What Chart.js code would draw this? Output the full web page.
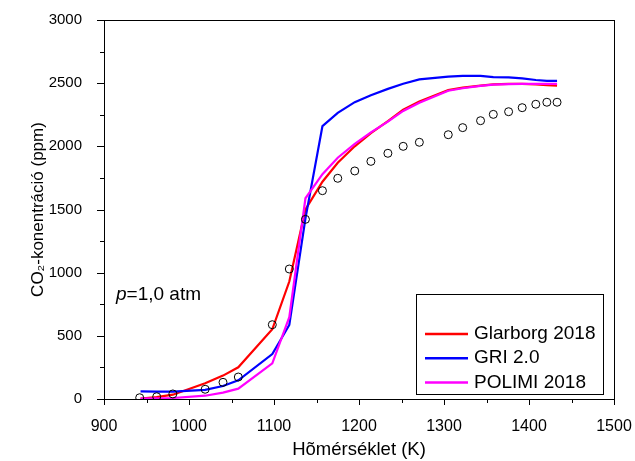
<!DOCTYPE html>
<html>
<head>
<meta charset="utf-8">
<script src="https://cdn.jsdelivr.net/npm/chart.js@4/dist/chart.umd.min.js"></script>
<style>
  html, body { margin: 0; padding: 0; background: #fff; }
  #wrap { width: 635px; height: 461px; }
</style>
</head>
<body>
<div id="wrap"><canvas id="co2Chart"></canvas></div>
<script>
// mért pontok
const tempExp = [942, 962, 981, 1019, 1040, 1058, 1098, 1118, 1137, 1157, 1175, 1195, 1214, 1234, 1252, 1271, 1305, 1322, 1343, 1358, 1376, 1392, 1408, 1421, 1433];
const co2Exp = [10, 18, 40, 77, 132, 174, 588, 1029, 1422, 1649, 1747, 1805, 1881, 1945, 2000, 2032, 2092, 2148, 2203, 2253, 2274, 2306, 2333, 2349, 2349];

// modellszámítások
const tempModel = [943, 962, 981, 1019, 1040, 1058, 1098, 1118, 1137, 1157, 1175, 1195, 1214, 1234, 1252, 1271, 1305, 1322, 1343, 1358, 1376, 1392, 1408, 1421, 1433];
const glarborg = [3, 15, 34, 124, 185, 251, 552, 930, 1500, 1720, 1870, 2000, 2105, 2200, 2290, 2355, 2445, 2465, 2480, 2490, 2495, 2495, 2490, 2485, 2480];
const gri = [60, 58, 58, 72, 103, 148, 356, 586, 1430, 2160, 2265, 2350, 2405, 2455, 2495, 2530, 2552, 2558, 2558, 2548, 2546, 2538, 2525, 2518, 2518];
const polimi = [3, 5, 8, 26, 50, 82, 282, 648, 1589, 1780, 1910, 2020, 2110, 2195, 2280, 2345, 2440, 2460, 2478, 2488, 2493, 2495, 2495, 2495, 2495];

const modelNames = ['Glarborg 2018', 'GRI 2.0', 'POLIMI 2018'];
const modelColors = ['#ff0000', '#0000ff', '#ff00ff'];
const modelValues = [glarborg, gri, polimi];

const FONT = "'Liberation Sans', Arial, sans-serif";
Chart.defaults.font.family = FONT;
Chart.defaults.color = '#000';

const toPoints = (xs, ys) => xs.map((x, i) => ({ x, y: ys[i] }));

// keret + kifelé álló osztásjelek
const framePlugin = {
  id: 'frame',
  afterDraw(chart) {
    const { ctx, chartArea: a, scales: { x, y } } = chart;
    ctx.save();
    ctx.strokeStyle = '#000';
    ctx.lineWidth = 1;
    ctx.strokeRect(a.left + 0.5, a.top + 0.5, a.right - a.left, a.bottom - a.top);
    ctx.beginPath();
    x.ticks.forEach(t => {
      const px = Math.round(x.getPixelForValue(t.value)) + 0.5;
      const len = t.value % 100 === 0 ? 6 : 4;
      ctx.moveTo(px, a.bottom);
      ctx.lineTo(px, a.bottom + len);
    });
    y.ticks.forEach(t => {
      const py = Math.round(y.getPixelForValue(t.value)) + 0.5;
      const len = t.value % 500 === 0 ? 7 : 4;
      ctx.moveTo(a.left, py);
      ctx.lineTo(a.left - len, py);
    });
    ctx.stroke();
    ctx.restore();
  }
};

// jelmagyarázat és a nyomás felirat a rajzterületen belül
const legendPlugin = {
  id: 'boxLegend',
  afterDraw(chart) {
    const { ctx } = chart;
    ctx.save();
    ctx.strokeStyle = '#000';
    ctx.lineWidth = 1;
    ctx.strokeRect(416.5, 294.5, 187, 100);
    ctx.font = '19px ' + FONT;
    ctx.textBaseline = 'middle';
    ctx.textAlign = 'left';
    chart.data.datasets.filter(d => d.type === 'line').forEach((d, i) => {
      const yy = 334 + i * 24.2;
      ctx.strokeStyle = d.borderColor;
      ctx.lineWidth = 2.5;
      ctx.beginPath();
      ctx.moveTo(425, yy);
      ctx.lineTo(468, yy);
      ctx.stroke();
      ctx.fillStyle = '#000';
      ctx.fillText(d.label, 474, yy);
    });
    ctx.font = 'italic 19px ' + FONT;
    ctx.textBaseline = 'alphabetic';
    ctx.fillText('p', 116, 300);
    const w = ctx.measureText('p').width;
    ctx.font = '19px ' + FONT;
    ctx.fillText('=1,0 atm', 116 + w, 300);
    ctx.restore();
  }
};

const datasets = modelNames.map((name, i) => ({
  type: 'line',
  label: name,
  data: toPoints(tempModel, modelValues[i]),
  borderColor: modelColors[i],
  backgroundColor: modelColors[i],
  borderWidth: 2.2,
  pointRadius: 0,
  tension: 0,
  fill: false,
  order: 2 + (2 - i)
}));
datasets.push({
  type: 'scatter',
  label: 'mért',
  data: toPoints(tempExp, co2Exp),
  pointStyle: 'circle',
  pointRadius: 4,
  borderColor: '#000',
  backgroundColor: 'rgba(0,0,0,0)',
  borderWidth: 1,
  order: 1
});

new Chart(document.getElementById('co2Chart'), {
  data: { datasets },
  options: {
    responsive: true,
    maintainAspectRatio: false,
    animation: false,
    layout: { padding: { top: 20, right: 21, left: 0, bottom: 0 } },
    plugins: { legend: { display: false }, tooltip: { enabled: false } },
    scales: {
      x: {
        type: 'linear', min: 900, max: 1500,
        grid: { display: false, drawTicks: false },
        border: { display: false },
        ticks: { stepSize: 50, padding: 18, font: { size: 16 }, callback: v => v % 100 === 0 ? v : '' },
        title: { display: true, text: 'Hõmérséklet (K)', font: { size: 18.5 }, padding: { top: 0, bottom: 0 } },
        afterFit(s) { s.height = 62; s.paddingLeft = 0; s.paddingRight = 0; }
      },
      y: {
        type: 'linear', min: 0, max: 3000,
        grid: { display: false, drawTicks: false },
        border: { display: false },
        ticks: { stepSize: 250, padding: 22, font: { size: 15 }, callback: v => v % 500 === 0 ? v : '' },
        title: { display: true, text: 'CO₂-konentráció (ppm)', font: { size: 17 }, padding: { top: 28, bottom: 0 } },
        afterFit(s) { s.width = 104; s.paddingTop = 0; s.paddingBottom = 0; }
      }
    }
  },
  plugins: [framePlugin, legendPlugin]
});
</script>
</body>
</html>
